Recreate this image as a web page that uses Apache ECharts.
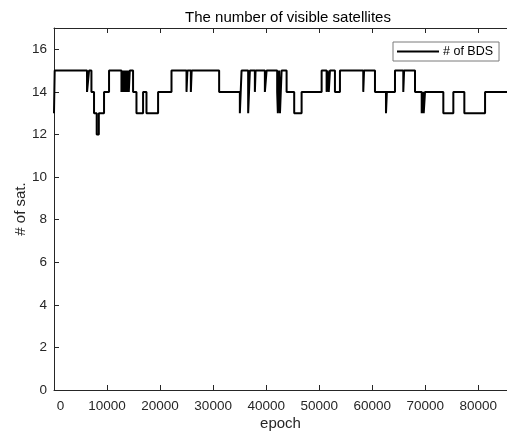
<!DOCTYPE html>
<html>
<head>
<meta charset="utf-8">
<script src="https://cdn.jsdelivr.net/npm/echarts@6/dist/echarts.min.js"></script>
<style>
  html, body { margin: 0; padding: 0; background: #fff; }
  #chart { width: 507px; height: 435px; }
</style>
</head>
<body>
<div id="chart"></div>
<script>
// epoch where the count changes, and the count from that epoch on
const changeEpochs = [
  0, 130, 6227, 6604, 7057, 7547, 8050, 8450, 9434, 10377,
  12717, 12900, 13050, 13250, 13400, 13600, 13750, 13950, 14100, 14283,
  14906, 15547, 16793, 17434, 19623, 22151,
  24981, 25150, 25800, 25950, 31132,
  35038, 35358, 36604, 36925, 37868, 38000, 39755, 40075,
  42075, 42200, 42450, 42600, 42906, 43849, 45283, 46679, 50453,
  51396, 51600, 51800, 52019, 52962, 53906, 58302, 58450,
  60510, 62585, 62750, 64283, 65849, 66000, 68057,
  69321, 69550, 69700, 69943, 73396, 75283, 77358, 81264, 86400
];
const satCount = [
  13, 15, 14, 15, 14, 13, 12, 13, 14, 15,
  14, 15, 14, 15, 14, 15, 14, 15, 14, 15,
  14, 13, 14, 13, 14, 15,
  14, 15, 14, 15, 14,
  13, 15, 13, 15, 14, 15, 14, 15,
  14, 13, 15, 13, 15, 14, 13, 14, 15,
  14, 15, 14, 15, 14, 15, 14, 15,
  14, 13, 14, 15, 14, 15, 14,
  13, 14, 13, 14, 13, 14, 13, 14, 14
];
const seriesName = "# of BDS";

const axisColor = "#262626";
const font = "'Liberation Sans', Arial, Helvetica, sans-serif";

let chart = echarts.init(document.getElementById("chart"));
let option = {
  animation: false,
  backgroundColor: "#fff",
  title: {
    text: "The number of visible satellites",
    left: 283,
    top: 5,
    textAlign: "center",
    textStyle: {
      color: "#000",
      fontFamily: font,
      fontWeight: "normal",
      fontSize: 15
    }
  },
  grid: {
    left: 54,
    right: 0,
    top: 28,
    bottom: 45,
    containLabel: false,
    outerBoundsMode: "none"
  },
  legend: {
    data: [seriesName],
    left: 393,
    top: 42,
    padding: [3, 6, 3, 4],
    backgroundColor: "#fff",
    borderColor: "#7a7a7a",
    borderWidth: 1,
    borderRadius: 0,
    icon: "rect",
    itemWidth: 42,
    itemHeight: 2,
    itemGap: 2,
    selectedMode: false,
    textStyle: {
      color: "#000",
      fontFamily: font,
      fontSize: 12.5,
      padding: [0, 0, 0, -1]
    }
  },
  xAxis: [
    {
      type: "value",
      min: 0,
      max: 85400,
      interval: 10000,
      name: "epoch",
      nameLocation: "middle",
      nameGap: 26,
      nameMoveOverlap: false,
      nameTextStyle: { color: axisColor, fontFamily: font, fontSize: 15 },
      axisLine: { show: true, onZero: false, lineStyle: { color: axisColor, width: 1 } },
      axisTick: { show: true, inside: true, length: 5, lineStyle: { color: axisColor } },
      axisLabel: {
        color: axisColor,
        fontFamily: font,
        fontSize: 13.5,
        margin: 9,
        showMaxLabel: false,
        formatter: function (v) {
          return v === 0 ? "{z|0}" : String(v);
        },
        rich: { z: { padding: [0, 0, 0, 13], fontSize: 13.5, fontFamily: font, color: axisColor } }
      },
      splitLine: { show: false }
    },
    {
      type: "value",
      position: "top",
      min: 0,
      max: 85400,
      interval: 10000,
      axisLine: { show: true, onZero: false, lineStyle: { color: axisColor, width: 1 } },
      axisTick: { show: true, inside: true, length: 5, lineStyle: { color: axisColor } },
      axisLabel: { show: false },
      splitLine: { show: false }
    }
  ],
  yAxis: {
    type: "value",
    min: 0,
    max: 17,
    interval: 2,
    name: "# of sat.",
    nameLocation: "middle",
    nameGap: 26,
    nameMoveOverlap: false,
    nameTextStyle: { color: axisColor, fontFamily: font, fontSize: 15 },
    axisLine: { show: true, onZero: false, lineStyle: { color: axisColor, width: 1 } },
    axisTick: { show: true, inside: true, length: 5, lineStyle: { color: axisColor } },
    axisLabel: {
      color: axisColor,
      fontFamily: font,
      fontSize: 13.5,
      margin: 7,
      showMaxLabel: false
    },
    splitLine: { show: false }
  },
  series: [
    {
      name: seriesName,
      type: "line",
      step: "end",
      showSymbol: false,
      symbol: "none",
      clip: true,
      color: "#000",
      lineStyle: { color: "#000", width: 2 },
      data: changeEpochs.map((e, i) => [e, satCount[i]])
    }
  ]
};
chart.setOption(option);
</script>
</body>
</html>
